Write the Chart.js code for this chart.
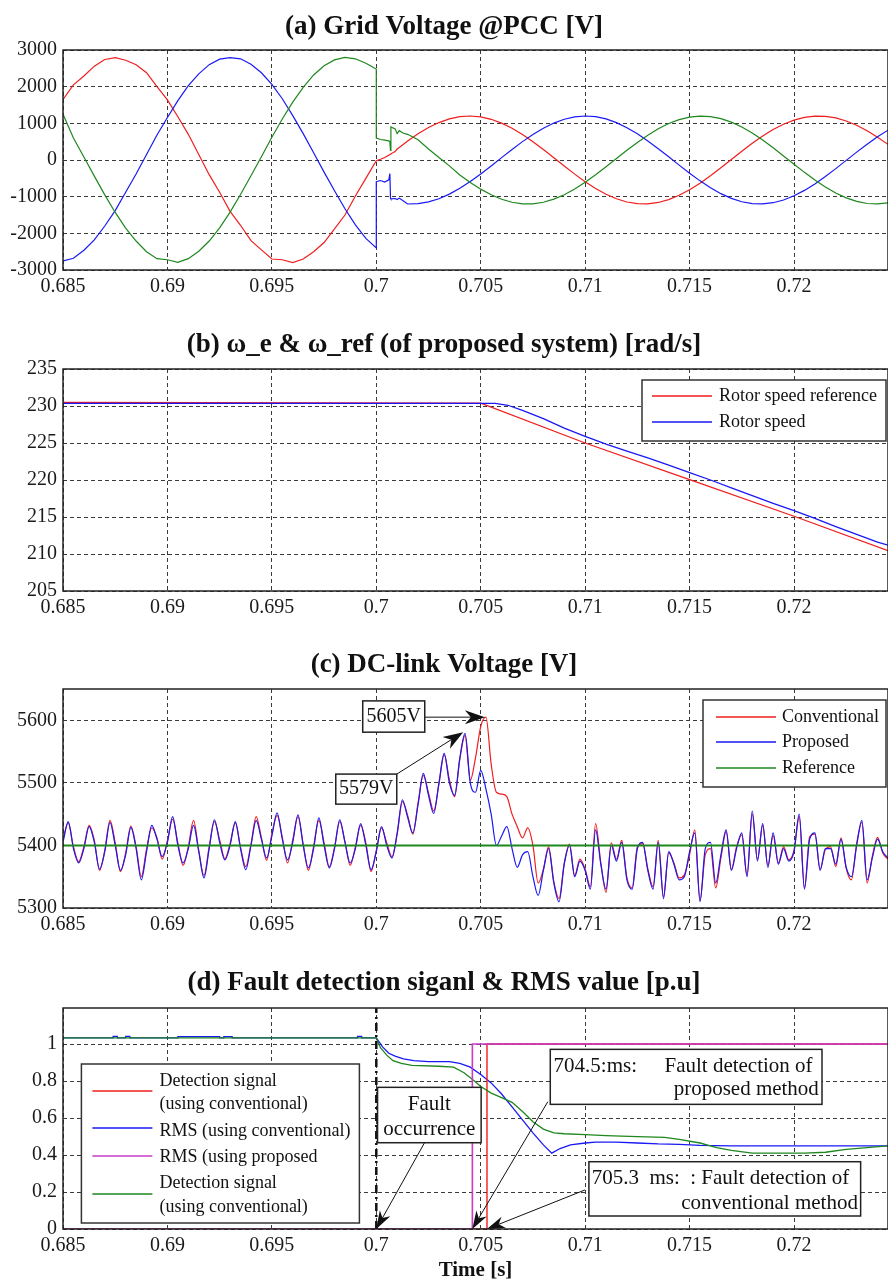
<!DOCTYPE html>
<html>
<head>
<meta charset="utf-8">
<script src="https://cdn.jsdelivr.net/npm/chart.js@4.4.1/dist/chart.umd.min.js"></script>
<style>
  body { margin: 0; background: #fff; }
  canvas { position: absolute; left: 0; }
</style>
</head>
<body>
<canvas id="chartA" width="888" height="320" style="top:0px"></canvas>
<canvas id="chartB" width="888" height="320" style="top:320px"></canvas>
<canvas id="chartC" width="888" height="320" style="top:640px"></canvas>
<canvas id="chartD" width="888" height="321" style="top:960px"></canvas>
<script>
// ---- data ----
const grid = (start, step, n) => Array.from({length: n}, (_, i) => +(start + i * step).toFixed(5));

// (a) grid voltage, three phases
const tA = [].concat(
    grid(0.685, 0.0005, 30),
    [0.7, 0.7, 0.7002, 0.7004, 0.7006, 0.70065, 0.70068, 0.7007, 0.7009, 0.701, 0.7011, 0.7013, 0.7015],
    grid(0.702, 0.0005, 46)
);
const vaRed = [
    1650, 2050, 2290, 2560, 2740, 2790, 2720, 2600, 2380, 2000, 1640, 1180, 700, 150, -400,
    -880, -1400, -1780, -2200, -2450, -2700, -2720, -2800, -2700, -2500, -2250, -1880, -1500, -980, -500,
    -20, -20, 20, 70, 130, 150, 160, 170, 230, 300, 340, 430, 520,
    717, 885, 1021, 1120, 1182, 1200, 1176, 1110, 1005, 866, 693, 498, 284, 61, -165, -385,
    -591, -776, -934, -1058, -1146, -1192, -1197, -1158, -1080, -963, -811, -631, -428, -210, 15, 239,
    455, 656, 832, 977, 1087, 1162, 1197, 1192, 1147, 1064, 948, 798, 623, 426
];
const vaBlue = [
    -2750, -2680, -2460, -2180, -1800, -1380, -880, -380, 150, 680, 1160, 1620, 2030, 2350, 2600,
    2750, 2790, 2760, 2610, 2380, 2060, 1670, 1210, 720, 200, -330, -840, -1330, -1770, -2140,
    -2400, -590, -560, -600, -540, -370, -1040, -1060, -1050, -1080, -1040, -1120, -1200,
    -1192, -1144, -1057, -931, -773, -587, -381, -161, 65, 288, 501, 697, 868, 1007, 1112, 1177,
    1200, 1181, 1120, 1019, 882, 714, 520, 309, 86, -140, -361, -569, -757, -918, -1047, -1138,
    -1189, -1198, -1165, -1090, -977, -829, -652, -451, -235, -10, 215, 432, 636, 814
];
const vaGreen = [
    1250, 600, 80, -440, -950, -1430, -1860, -2210, -2500, -2690, -2720, -2790, -2690, -2490, -2210,
    -1850, -1420, -940, -430, 90, 620, 1120, 1580, 1980, 2320, 2570, 2730, 2800, 2760, 2640,
    2480, 600, 560, 540, 520, 500, 260, 900, 850, 720, 800, 730, 700,
    550, 300, 70, -160, -408, -613, -795, -949, -1070, -1153, -1195, -1194, -1152, -1068, -947, -792,
    -609, -404, -186, 40, 264, 479, 676, 850, 994, 1102, 1171, 1199, 1185, 1128, 1032, 899,
    734, 543, 333, 111, -115, -337, -547, -737, -902, -1034, -1130, -1186, -1199, -1171
];

// (b) rotor speed
const tBref = [0.685, 0.705, 0.71, 0.715, 0.72, 0.7245];
const vBref = [230.5, 230.4, 225.0, 220.05, 215.1, 210.45];
const tBrot = [0.685, 0.7057, 0.7063, 0.707, 0.708, 0.709, 0.71, 0.711, 0.712, 0.713, 0.714,
    0.715, 0.716, 0.717, 0.718, 0.719, 0.72, 0.721, 0.722, 0.723, 0.724, 0.7245];
const vBrot = [230.35, 230.35, 230.1, 229.4, 228.3, 227.0, 225.9, 224.85, 223.9, 223.0, 222.0,
    221.0, 220.0, 218.95, 217.9, 216.85, 215.85, 214.8, 213.7, 212.65, 211.6, 211.2];

// (c) DC-link voltage, sampled every 0.25 ms
const tC = grid(0.685, 0.00025, 159);
const vcProposed = [
    5405, 5438, 5395, 5372, 5395, 5430, 5405, 5362, 5390, 5437,
    5400, 5360, 5385, 5429, 5395, 5345, 5390, 5432, 5410, 5382,
    5405, 5446, 5400, 5372, 5395, 5432, 5390, 5348, 5395, 5441,
    5405, 5377, 5400, 5438, 5395, 5361, 5400, 5440, 5410, 5380,
    5415, 5452, 5410, 5377, 5405, 5449, 5400, 5364, 5395, 5444,
    5400, 5364, 5395, 5441, 5405, 5372, 5395, 5435, 5400, 5361,
    5390, 5430, 5400, 5380, 5420, 5473, 5445, 5420, 5465, 5515,
    5480, 5451, 5500, 5547, 5500, 5480, 5540, 5579, 5500, 5485,
    5520, 5490, 5450, 5400, 5415, 5430, 5395, 5365, 5385, 5390,
    5350, 5320, 5360, 5395, 5340, 5310, 5370, 5400, 5350, 5375,
    5360, 5330, 5425, 5370, 5330, 5400, 5375, 5405, 5345, 5330,
    5395, 5405, 5360, 5330, 5405, 5315, 5390, 5370, 5345, 5350,
    5390, 5420, 5310, 5395, 5405, 5340, 5385, 5425, 5360, 5395,
    5420, 5350, 5455, 5375, 5435, 5365, 5420, 5370, 5395, 5375,
    5390, 5450, 5330, 5410, 5420, 5360, 5395, 5395, 5370, 5410,
    5365, 5350, 5400, 5440, 5345, 5380, 5410, 5390, 5380
];
const vcConventional = [
    5410, 5436, 5398, 5374, 5398, 5432, 5408, 5360, 5392, 5440,
    5404, 5358, 5388, 5431, 5398, 5350, 5394, 5428, 5412, 5378,
    5408, 5442, 5404, 5368, 5398, 5440, 5392, 5352, 5398, 5438,
    5409, 5379, 5403, 5436, 5397, 5366, 5402, 5446, 5412, 5376,
    5418, 5448, 5413, 5372, 5409, 5446, 5402, 5360, 5399, 5440,
    5404, 5366, 5397, 5438, 5406, 5368, 5398, 5432, 5404, 5358,
    5392, 5428, 5404, 5382, 5418, 5470, 5448, 5418, 5468, 5512,
    5484, 5455, 5498, 5545, 5505, 5478, 5538, 5576, 5504, 5540,
    5590, 5605, 5530, 5485, 5482, 5478, 5450, 5430, 5412, 5428,
    5400, 5340, 5362, 5398, 5342, 5315, 5372, 5402, 5352, 5378,
    5362, 5334, 5435, 5372, 5325, 5404, 5378, 5408, 5348, 5332,
    5398, 5403, 5363, 5334, 5408, 5318, 5388, 5372, 5348, 5353,
    5385, 5425, 5312, 5385, 5395, 5332, 5380, 5422, 5362, 5398,
    5417, 5352, 5450, 5378, 5432, 5368, 5416, 5372, 5398, 5377,
    5392, 5446, 5332, 5414, 5418, 5362, 5393, 5398, 5366, 5412,
    5363, 5345, 5403, 5437, 5340, 5383, 5413, 5388, 5378
];
const tCref = [0.685, 0.7245];
const vCref = [5400, 5400];

// (d) fault detection signals and RMS values
const tDdetConv = [0.685, 0.7053, 0.7053, 0.7245];
const vDdetConv = [0, 0, 1, 1];
const tDrmsConv = [0.685, 0.6874, 0.6874, 0.6876, 0.6876, 0.688, 0.688, 0.6882, 0.6882, 0.6905,
    0.6905, 0.6925, 0.6925, 0.6927, 0.6927, 0.6931, 0.6931, 0.6991, 0.6991, 0.6993, 0.6993, 0.7,
    0.7003, 0.7006, 0.7009, 0.7013, 0.7018, 0.7025, 0.7035, 0.704, 0.7045, 0.705, 0.7055, 0.706,
    0.7065, 0.707, 0.7075, 0.708, 0.7084, 0.7088, 0.7093, 0.71, 0.7105, 0.7115, 0.7125, 0.7135,
    0.7145, 0.7155, 0.717, 0.7245];
const vDrmsConv = [1.033, 1.033, 1.042, 1.042, 1.033, 1.033, 1.042, 1.042, 1.033, 1.033,
    1.04, 1.04, 1.033, 1.033, 1.04, 1.04, 1.033, 1.033, 1.042, 1.042, 1.033, 1.033,
    0.985, 0.95, 0.935, 0.92, 0.91, 0.905, 0.905, 0.895, 0.875, 0.835, 0.79, 0.73,
    0.66, 0.59, 0.52, 0.455, 0.41, 0.435, 0.455, 0.465, 0.47, 0.47, 0.465, 0.46,
    0.458, 0.452, 0.45, 0.45];
const tDrmsProp = [0.685, 0.7046, 0.7046, 0.7245];
const vDrmsProp = [0, 0, 1, 1];
const tDdet2 = [0.685, 0.7, 0.7002, 0.7005, 0.7008, 0.7012, 0.7017, 0.703, 0.7037, 0.7042, 0.7047,
    0.705, 0.7055, 0.706, 0.7065, 0.707, 0.7075, 0.708, 0.7085, 0.709, 0.71, 0.711, 0.7125, 0.7138,
    0.7145, 0.7155, 0.7163, 0.717, 0.718, 0.7195, 0.7205, 0.7215, 0.7225, 0.7235, 0.7245];
const vDdet2 = [1.033, 1.033, 0.98, 0.94, 0.91, 0.895, 0.885, 0.88, 0.875, 0.845, 0.8,
    0.77, 0.735, 0.71, 0.685, 0.635, 0.58, 0.54, 0.52, 0.515, 0.51, 0.505, 0.5, 0.495,
    0.485, 0.465, 0.44, 0.425, 0.41, 0.41, 0.41, 0.415, 0.43, 0.44, 0.45];
const tDfault = [0.7, 0.7];
const vDfault = [0, 1.195];

// ---- helpers ----
const SERIF = '"Liberation Serif", "Times New Roman", serif';
Chart.defaults.font.family = SERIF;
Chart.defaults.color = '#1a1a1a';

const RED = 'rgb(240,30,30)', BLUE = 'rgb(25,25,245)', GREEN = 'rgb(30,135,30)', MAGENTA = 'rgb(200,60,200)';

const pts = (ts, vs) => ts.map((t, i) => ({x: t, y: vs[i]}));

function xAxis(h, title) {
    return {
        type: 'linear', min: 0.685, max: 0.7245,
        ticks: {stepSize: 0.005, includeBounds: false, padding: 5, autoSkip: false, maxRotation: 0,
            font: {size: 20}, callback: v => String(+v.toFixed(3))},
        grid: {color: '#3a3a3a', lineWidth: 1, drawTicks: false},
        border: {display: false, dash: [4, 3]},
        title: title ? {display: true, text: title, font: {size: 21, weight: 'bold', lineHeight: 1}, padding: 0, color: '#111'} : {display: false},
        afterFit: s => { s.height = h; }
    };
}
function yAxis(min, max, step) {
    return {
        type: 'linear', min: min, max: max,
        ticks: {stepSize: step, includeBounds: false, padding: 6, font: {size: 20},
            callback: v => String(+v.toFixed(2))},
        grid: {color: '#3a3a3a', lineWidth: 1, drawTicks: false},
        border: {display: false, dash: [4, 3]},
        afterFit: s => { s.width = 63; }
    };
}
function titleOpts(text, top, bottom) {
    return {display: true, text: text, color: '#111',
        font: {size: 27, weight: 'bold', lineHeight: 1.2}, padding: {top: top, bottom: bottom}};
}

const framePlugin = {
    id: 'frame',
    afterDatasetsDraw(chart) {
        const {ctx, chartArea: a} = chart;
        ctx.save();
        ctx.strokeStyle = '#222';
        ctx.lineWidth = 1.5;
        ctx.strokeRect(a.left, a.top, a.right - a.left, a.bottom - a.top);
        ctx.restore();
    }
};

// legend drawn as a framed box inside the axes, like the MATLAB one
function boxLegend(cfg) {
    return {
        id: 'boxLegend',
        afterDraw(chart) {
            const {ctx, chartArea: a} = chart;
            const x0 = cfg.right !== undefined ? a.right - cfg.right - cfg.w : a.left + cfg.left;
            const y0 = a.top + cfg.top;
            ctx.save();
            ctx.fillStyle = '#fff';
            ctx.fillRect(x0, y0, cfg.w, cfg.h);
            ctx.strokeStyle = '#333';
            ctx.lineWidth = 1.5;
            ctx.strokeRect(x0, y0, cfg.w, cfg.h);
            ctx.font = cfg.font;
            ctx.textBaseline = 'middle';
            ctx.textAlign = 'left';
            cfg.rows.forEach(row => {
                const ds = chart.data.datasets[row.ds];
                ctx.strokeStyle = ds.borderColor;
                ctx.lineWidth = 1.6;
                ctx.beginPath();
                ctx.moveTo(x0 + cfg.lineX0, y0 + row.lineY);
                ctx.lineTo(x0 + cfg.lineX1, y0 + row.lineY);
                ctx.stroke();
                ctx.fillStyle = '#111';
                ds.label.split('\n').forEach((s, k) => ctx.fillText(s, x0 + cfg.textX, y0 + row.textY[k]));
            });
            ctx.restore();
        }
    };
}

function drawArrow(ctx, x1, y1, x2, y2, L, W) {
    const c = Math.cos(Math.atan2(y2 - y1, x2 - x1)), s = Math.sin(Math.atan2(y2 - y1, x2 - x1));
    ctx.strokeStyle = '#111';
    ctx.lineWidth = 1;
    ctx.beginPath();
    ctx.moveTo(x1, y1);
    ctx.lineTo(x2 - L * 0.7 * c, y2 - L * 0.7 * s);
    ctx.stroke();
    ctx.fillStyle = '#111';
    ctx.beginPath();
    ctx.moveTo(x2, y2);
    ctx.lineTo(x2 - L * c + W * s, y2 - L * s - W * c);
    ctx.lineTo(x2 - L * 0.7 * c, y2 - L * 0.7 * s);
    ctx.lineTo(x2 - L * c - W * s, y2 - L * s + W * c);
    ctx.closePath();
    ctx.fill();
}

// text boxes and arrows, anchored in data units
function notes(cfg) {
    return {
        id: 'notes',
        afterDraw(chart) {
            const {ctx} = chart;
            const X = v => chart.scales.x.getPixelForValue(v), Y = v => chart.scales.y.getPixelForValue(v);
            ctx.save();
            cfg.arrows.forEach(ar => drawArrow(ctx, X(ar.from[0]), Y(ar.from[1]), X(ar.to[0]), Y(ar.to[1]), cfg.head[0], cfg.head[1]));
            cfg.boxes.forEach(b => {
                const l = X(b.x0), r = X(b.x1), t = Y(b.y1), bt = Y(b.y0);
                ctx.fillStyle = '#fff';
                ctx.fillRect(l, t, r - l, bt - t);
                ctx.strokeStyle = '#222';
                ctx.lineWidth = 1.5;
                ctx.strokeRect(l, t, r - l, bt - t);
                ctx.fillStyle = '#111';
                ctx.font = cfg.font;
                ctx.textBaseline = 'middle';
                b.texts.forEach(tx => {
                    ctx.textAlign = tx.align;
                    ctx.fillText(tx.s, X(tx.x), Y(tx.y));
                });
            });
            ctx.restore();
        }
    };
}

function line(label, ts, vs, color, width, order, extra) {
    return Object.assign({label: label, data: pts(ts, vs), borderColor: color, borderWidth: width,
        pointRadius: 0, fill: false, tension: 0, order: order}, extra || {});
}

function baseOptions(title, tTop, tBottom, yAx, xH, xTitle) {
    return {
        responsive: false, animation: false, events: [],
        layout: {padding: 0},
        scales: {x: xAxis(xH, xTitle), y: yAx},
        plugins: {legend: {display: false}, tooltip: {enabled: false}, title: titleOpts(title, tTop, tBottom)}
    };
}

// ---- (a) ----
new Chart(document.getElementById('chartA'), {
    type: 'line',
    data: {datasets: [
        line('Phase a', tA, vaRed, RED, 1.2, 2),
        line('Phase b', tA, vaBlue, BLUE, 1.2, 1),
        line('Phase c', tA, vaGreen, GREEN, 1.2, 0)
    ]},
    options: baseOptions('(a) Grid Voltage @PCC [V]', 10.8, 6.8, yAxis(-3000, 3000, 1000), 50),
    plugins: [framePlugin]
});

// ---- (b) ----
new Chart(document.getElementById('chartB'), {
    type: 'line',
    data: {datasets: [
        line('Rotor speed reference', tBref, vBref, RED, 1.3, 1),
        line('Rotor speed', tBrot, vBrot, BLUE, 1.3, 0)
    ]},
    options: baseOptions('(b) ω_e & ω_ref (of proposed system) [rad/s]', 8.8, 7.8, yAxis(205, 235, 5), 49),
    plugins: [framePlugin, boxLegend({right: 2, top: 11, w: 244, h: 61, lineX0: 10, lineX1: 70, textX: 77,
        font: '18px ' + SERIF, rows: [{ds: 0, lineY: 16, textY: [16]}, {ds: 1, lineY: 42, textY: [42]}]})]
});

// ---- (c) ----
new Chart(document.getElementById('chartC'), {
    type: 'line',
    data: {datasets: [
        line('Conventional', tC, vcConventional, RED, 1.2, 2, {cubicInterpolationMode: 'monotone'}),
        line('Proposed', tC, vcProposed, BLUE, 1.2, 1, {cubicInterpolationMode: 'monotone'}),
        line('Reference', tCref, vCref, GREEN, 2, 0)
    ]},
    options: baseOptions('(c) DC-link Voltage [V]', 8.8, 7.8, yAxis(5300, 5650, 100), 52),
    plugins: [framePlugin,
        notes({font: '20px ' + SERIF, head: [20, 7],
            arrows: [{from: [0.70232, 5605], to: [0.7052, 5605]}, {from: [0.70098, 5514], to: [0.70416, 5581]}],
            boxes: [
                {x0: 0.69935, x1: 0.70232, y0: 5581, y1: 5631, texts: [{s: '5605V', align: 'center', x: 0.70084, y: 5606}]},
                {x0: 0.69806, x1: 0.70098, y0: 5466, y1: 5514, texts: [{s: '5579V', align: 'center', x: 0.69952, y: 5490}]}
            ]}),
        boxLegend({right: 2, top: 11, w: 183, h: 87, lineX0: 13, lineX1: 73, textX: 79,
            font: '18px ' + SERIF, rows: [{ds: 0, lineY: 17, textY: [17]}, {ds: 1, lineY: 42, textY: [42]}, {ds: 2, lineY: 68, textY: [68]}]})]
});

// ---- (d) ----
new Chart(document.getElementById('chartD'), {
    type: 'line',
    data: {datasets: [
        line('Detection signal\n(using conventional)', tDdetConv, vDdetConv, RED, 1.4, 2),
        line('RMS (using conventional)', tDrmsConv, vDrmsConv, BLUE, 1.3, 3),
        line('RMS (using proposed', tDrmsProp, vDrmsProp, MAGENTA, 1.6, 0),
        line('Detection signal\n(using conventional)', tDdet2, vDdet2, GREEN, 1.3, 1),
        line('', tDfault, vDfault, '#111', 2.5, -1, {borderDash: [8, 4, 2, 4]})
    ]},
    options: baseOptions('(d) Fault detection siganl & RMS value [p.u]', 6.5, 9.1, yAxis(0, 1.195, 0.2), 52, 'Time [s]'),
    plugins: [framePlugin,
        notes({font: '21px ' + SERIF, head: [18, 6],
            arrows: [{from: [0.70231, 0.4665], to: [0.7, 0]}, {from: [0.70821, 0.688], to: [0.7046, 0]},
                {from: [0.70999, 0.211], to: [0.7053, 0]}],
            boxes: [
                {x0: 0.70006, x1: 0.70502, y0: 0.4665, y1: 0.766, texts: [
                    {s: 'Fault', align: 'center', x: 0.70254, y: 0.672},
                    {s: 'occurrence', align: 'center', x: 0.70254, y: 0.539}]},
                {x0: 0.70833, x1: 0.72134, y0: 0.674, y1: 0.9714, texts: [
                    {s: '704.5:ms:', align: 'left', x: 0.70849, y: 0.881},
                    {s: 'Fault detection of', align: 'right', x: 0.72089, y: 0.881},
                    {s: 'proposed method', align: 'right', x: 0.72119, y: 0.755}]},
                {x0: 0.71018, x1: 0.72319, y0: 0.0703, y1: 0.3638, texts: [
                    {s: '705.3  ms:', align: 'left', x: 0.71031, y: 0.274},
                    {s: ': Fault detection of', align: 'right', x: 0.72265, y: 0.274},
                    {s: 'conventional method', align: 'right', x: 0.72306, y: 0.139}]}
            ]}),
        boxLegend({left: 18.4, top: 56, w: 278, h: 159, lineX0: 11, lineX1: 71, textX: 78,
            font: '18px ' + SERIF, rows: [
                {ds: 0, lineY: 27, textY: [17, 40]}, {ds: 1, lineY: 64, textY: [67]},
                {ds: 2, lineY: 92, textY: [93]}, {ds: 3, lineY: 130, textY: [119, 143]}]})]
});
</script>
</body>
</html>
